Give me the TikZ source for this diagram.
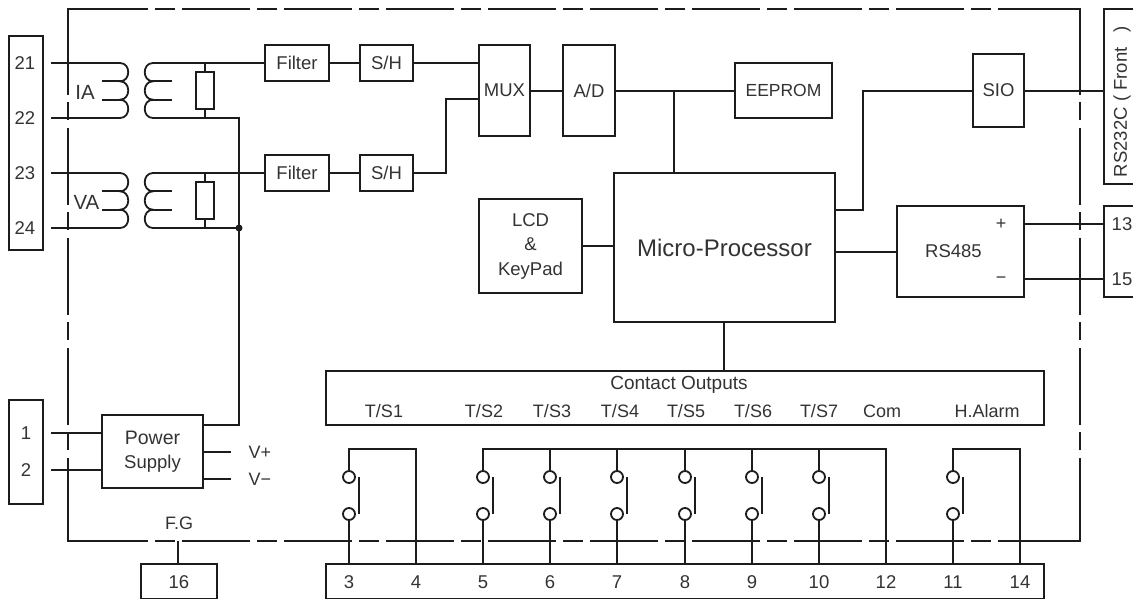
\documentclass[tikz,border=0pt]{standalone}
\usepackage{fontspec}
\setmainfont{Liberation Sans}
\definecolor{ink}{HTML}{1C1C1C}
\definecolor{txt}{HTML}{333333}
\tikzset{
  x=1pt,y=-1pt,
  wire/.style={line width=1.8pt,draw=ink,line cap=butt,line join=miter},
  framepart/.style={line width=1.8pt,draw=ink},
  hdash/.style={framepart,dash pattern=on 68pt off 7pt on 20pt off 7pt},
  vdash/.style={framepart,dash pattern=on 77pt off 7pt on 18pt off 8pt},
  blk/.style={draw=ink,line width=1.8pt,fill=white,inner sep=0pt,outer sep=0pt,align=center,text=txt,font=\fontsize{18.5}{24.5}\selectfont},
  lbl/.style={inner sep=0pt,outer sep=0pt,text=txt,align=center,font=\fontsize{18}{22}\selectfont},
  term/.style={lbl,font=\fontsize{18.5}{22}\selectfont},
  ring/.style={circle,draw=ink,line width=1.8pt,minimum size=12pt,inner sep=0pt,outer sep=0pt},
  res/.style={draw=ink,line width=1.8pt,minimum width=18pt,minimum height=37pt,inner sep=0pt,outer sep=0pt},
  jdot/.style={circle,fill=ink,minimum size=7pt,inner sep=0pt,outer sep=0pt}
}
\newcommand{\bx}[6]{\node[blk,minimum width=#4pt-#2pt,minimum height=#5pt-#3pt] (#1) at ({(#2+#4)/2},{(#3+#5)/2}) {#6};}
\begin{document}
\begin{tikzpicture}
\useasboundingbox (0,0) rectangle (1133,600);
\clip (0,0) rectangle (1133,600);
% frame corners
\coordinate (tl) at (68,9); \coordinate (tr) at (1080,9);
\coordinate (bl) at (68,541); \coordinate (br) at (1080,541);
\draw[framepart] (80,9) -- (tl) -- (68,95);
\draw[hdash] (80,9) -- (998,9);
\draw[framepart] (998,9) -- (tr) -- (1080,95);
\draw[vdash] (68,18) -- (68,458);
\draw[vdash] (1080,18) -- (1080,458);
\draw[framepart] (68,458) -- (bl) -- (80,541);
\draw[hdash] (80,541) -- (998,541);
\draw[framepart] (998,541) -- (br) -- (1080,458);
% terminal blocks
\bx{tbA}{9}{36}{43}{250}{}
\bx{tbP}{9}{400}{43}{504}{}
\bx{tbF}{141}{564}{217}{598.5}{}
\bx{tbB}{326}{564}{1044}{598.5}{}
\bx{tbC}{1104}{9}{1150}{184}{}
\bx{tbR}{1104}{206}{1150}{297}{}
\foreach \n/\y in {21/63,22/118,23/173,24/228}{
  \node[term] (n\n) at (25,\y) {\n};
  \coordinate (w\n) at (51,\y);
}
\node[term] (n1) at (26,433) {1};
\node[term] (n2) at (26,470) {2};
\coordinate (w1) at (51,433); \coordinate (w2) at (51,470);
\node[term] (n16) at (179,582) {16};
\node[term] (n13) at (1122,224) {13};
\node[term] (n15) at (1122,279) {15};
\node[term,rotate=90,anchor=west] (nrs) at (1122,177) {RS232C ( Front \ \ )};
% transformers
\foreach \k/\a/\b/\c/\d in {I/63/81.3/99.7/118,V/173/191.3/209.7/228}{
  \coordinate (p\k1) at (120,\a); \coordinate (p\k2) at (120,\b);
  \coordinate (p\k3) at (120,\c); \coordinate (p\k4) at (120,\d);
  \draw[wire] (p\k1) .. controls (131,\a) and (131,\b) .. (p\k2)
      .. controls (131,\b) and (131,\c) .. (p\k3)
      .. controls (131,\c) and (131,\d) .. (p\k4);
  \coordinate (s\k1) at (153,\a); \coordinate (s\k2) at (153,\b);
  \coordinate (s\k3) at (153,\c); \coordinate (s\k4) at (153,\d);
  \draw[wire] (s\k1) .. controls (142,\a) and (142,\b) .. (s\k2)
      .. controls (142,\b) and (142,\c) .. (s\k3)
      .. controls (142,\c) and (142,\d) .. (s\k4);
  \coordinate (ta\k) at (102,\b); \coordinate (tb\k) at (102,\c);
  \coordinate (tc\k) at (172,\b); \coordinate (td\k) at (172,\c);
  \draw[wire] (ta\k) -- (124,\b); \draw[wire] (tb\k) -- (124,\c);
  \draw[wire] (149,\b) -- (tc\k); \draw[wire] (149,\c) -- (td\k);
  \node[res] (r\k) at (205,{(\a+\d)/2}) {};
  \draw[wire] (r\k.north) -- (205,\a);
  \draw[wire] (r\k.south) -- (205,\d);
}
\node[lbl,font=\fontsize{20.5}{22}\selectfont] (ia) at (85,92) {IA};
\node[lbl,font=\fontsize{20.5}{22}\selectfont] (va) at (86.5,202) {VA};
\draw[wire] (w21) -- (pI1);
\draw[wire] (w22) -- (pI4);
\draw[wire] (w23) -- (pV1);
\draw[wire] (w24) -- (pV4);
% signal chain
\bx{f1}{265}{45}{329}{81}{Filter}
\bx{f2}{265}{155}{329}{191}{Filter}
\bx{sh1}{360}{45}{413}{81}{S/H}
\bx{sh2}{360}{155}{413}{191}{S/H}
\bx{mux}{479}{45}{530}{136}{MUX}
\bx{ad}{563}{45}{615}{136}{A/D}
\bx{eep}{735}{63}{832}{118}{\fontsize{17.5}{22}\selectfont EEPROM}
\bx{mp}{614}{173}{835}{322}{\fontsize{24}{28}\selectfont Micro-Processor}
\bx{lcd}{479}{199}{582}{293}{LCD\\\&\\KeyPad}
\bx{sio}{973}{54}{1024}{127}{SIO}
\bx{rs}{897}{206}{1024}{297}{RS485\hspace{14pt}\mbox{}}
\bx{ps}{102}{415}{203}{488}{\fontsize{19.5}{25}\selectfont Power\\Supply}
\bx{co}{326}{371}{1044}{425}{}
\draw[wire] (sI1) -- (f1.west);
\draw[wire] (sV1) -- (f2.west);
\draw[wire] (f1) -- (sh1);
\draw[wire] (f2) -- (sh2);
\draw[wire] (sh1.east) -- (mux.west |- sh1.east);
\coordinate (m2) at (479,99); \coordinate (m3) at (446,173);
\draw[wire] (sh2.east) -- (m3) -- (446,99) -- (m2);
\coordinate (muxo) at (530,91); \coordinate (adi) at (563,91);
\draw[wire] (muxo) -- (adi);
\coordinate (ado) at (615,91); \coordinate (eepi) at (735,91);
\draw[wire] (ado) -- (eepi);
\coordinate (jn) at (674,91);
\draw[wire] (jn) -- (674,173);
\draw[wire] (lcd.east) -- (lcd.east -| mp.west);
\coordinate (m4) at (835,210); \coordinate (sioi) at (973,91); \coordinate (sioo) at (1024,91); \coordinate (rsi) at (897,252); \coordinate (mpo) at (835,252);
\draw[wire] (m4) -- (863,210) -- (863,91) -- (sioi);
\draw[wire] (mpo) -- (rsi);
\draw[wire] (sioo) -- (1104,91);
\coordinate (rp) at (1024,224); \coordinate (rm) at (1024,279);
\draw[wire] (rp) -- (1104,224);
\draw[wire] (rm) -- (1104,279);
\node[lbl] (plus) at (1001,224) {+};
\node[lbl] (minus) at (1001,280) {−};
\draw[wire] (mp.south -| 724,0) -- (724,371);
% common & power
\draw[wire] (sI4) -- (239,118) -- (239,425) -- (203,425);
\draw[wire] (sV4) -- (239,228);
\node[jdot] (dot) at (239,228) {};
\draw[wire] (w1) -- (ps.west |- w1);
\draw[wire] (w2) -- (ps.west |- w2);
\coordinate (vp) at (231,452); \coordinate (vm) at (231,479);
\draw[wire] (ps.east |- vp) -- (vp);
\draw[wire] (ps.east |- vm) -- (vm);
\node[lbl] (vpt) at (260,452) {V+};
\node[lbl] (vmt) at (260,479) {V−};
\node[lbl] (fg) at (179,523) {F.G};
\draw[wire] (178,541) -- (tbF.north -| 178,0);
% contact output labels
\node[lbl,font=\fontsize{19}{22}\selectfont] (cot) at (679,385) {Contact Outputs};
\foreach \s/\t/\x in {a/T\slash S1/384,b/T\slash S2/484,c/T\slash S3/552,d/T\slash S4/620,e/T\slash S5/686,f/T\slash S6/753,g/T\slash S7/819,h/Com/882,i/H.Alarm/987}{
  \node[lbl] (lb\s) at (\x,411) {\t};
}
% contacts
\foreach \n/\x in {3/349,5/483,6/550,7/617,8/685,9/752,10/819,11/953}{
  \node[term] (q\n) at (\x,582) {\n};
  \coordinate (top\n) at (\x,449);
  \coordinate (pin\n) at (\x,564);
  \node[ring] (ct\n) at (\x,477) {};
  \node[ring] (cb\n) at (\x,514) {};
  \draw[wire] (top\n) -- (ct\n.north);
  \draw[wire] (cb\n.south) -- (pin\n);
  \coordinate (bla\n) at (\x+10,477);
  \coordinate (blb\n) at (\x+10,514);
  \draw[wire,line width=1.4pt] (bla\n) -- (blb\n);
}
\foreach \n/\x in {4/416,12/886,14/1020}{
  \node[term] (q\n) at (\x,582) {\n};
  \coordinate (top\n) at (\x,449);
  \coordinate (pin\n) at (\x,564);
}
\draw[wire] (ct3.north) -- (top3) -- (top4) -- (pin4);
\draw[wire] (ct5.north) -- (top5) -- (top12) -- (pin12);
\draw[wire] (ct11.north) -- (top11) -- (top14) -- (pin14);
\end{tikzpicture}
\end{document}
